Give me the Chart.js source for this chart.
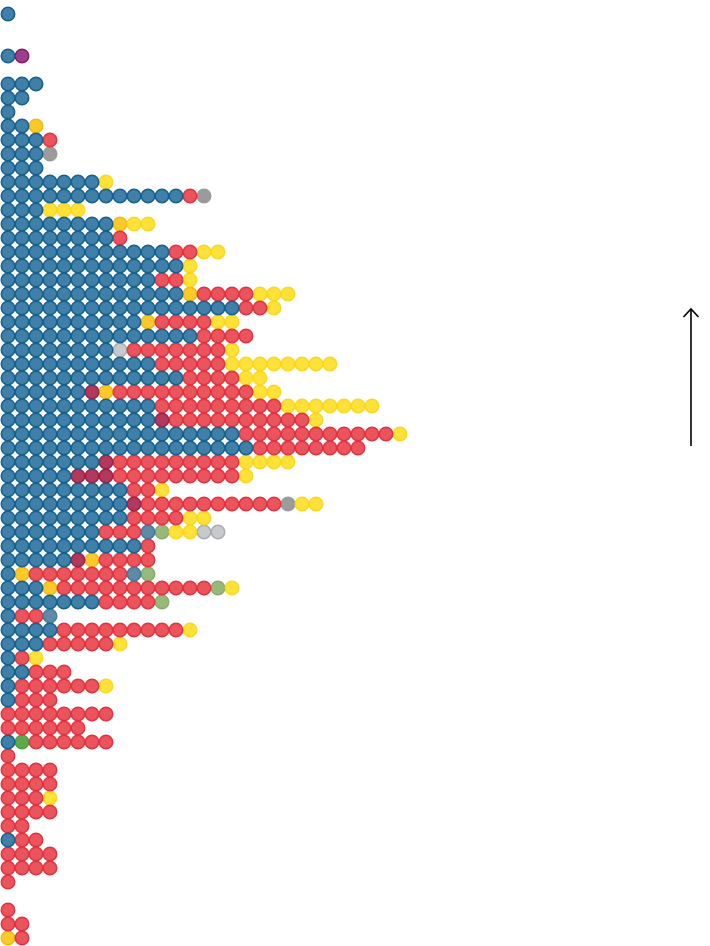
<!DOCTYPE html>
<html>
<head>
<meta charset="utf-8">
<script src="https://cdn.jsdelivr.net/npm/chart.js@4.4.1/dist/chart.umd.min.js"></script>
<style>
  html, body { margin: 0; padding: 0; background: #ffffff; }
  #wrap { width: 710px; height: 946px; }
</style>
</head>
<body>
<div id="wrap"><canvas id="c" width="710" height="946"></canvas></div>
<script>
// Category codes
const categoryCodes = ["B", "b", "D", "R", "Y", "y", "P", "G", "L", "V", "g"];
const categoryNames = ["Blue", "Blue (mixed)", "Dark red", "Red", "Yellow", "Yellow (mixed)", "Purple", "Grey", "Light grey", "Light green", "Green"];

// One string per row (top to bottom), one character per dot (left to right)
const rows = [
  "B", "", "", "BP", "", "BBB", "BB", "B", "BBy", "BBBR",
  "BBBG", "BBB", "BBBBBBBY", "BBBBBBBBBBBBBRG", "BBBYYY",
  "BBBBBBBByYY", "BBBBBBBBR", "BBBBBBBBBBBBRRYY", "BBBBBBBBBBBBBY", "BBBBBBBBBBBRRY",
  "BBBBBBBBBBBBByRRRRYYY", "BBBBBBBBBBBBBBBBBRRY", "BBBBBBBBBByRRRRYY", "BBBBBBBBBBBBBBRRRR", "BBBBBBBBLRRRRRRRY",
  "BBBBBBBBBBBRRRRRYYYYYYYY", "BBBBBBBBBBBBBRRRRYY", "BBBBBBDyRRRRRRRRRRYY", "BBBBBBBBBBBRRRRRRRRRYYYYYYY", "BBBBBBBBBBBDRRRRRRRRRRY",
  "BBBBBBBBBBBBBBBBBRRRRRRRRRRRY", "BBBBBBBBBBBBBBBBBBRRRRRRRR", "BBBBBBBDRRRRRRRRRYYYY", "BBBBBDDDRRRRRRRRRY", "BBBBBBBBBRRY",
  "BBBBBBBBBDRRRRRRRRRRGYY", "BBBBBBBBBRRRRYY", "BBBBBBBRRRbVYYLL", "BBBBBBBBBBR", "BBBBBDyRRRR",
  "ByRRRRRRRbV", "BBByRRRRRRRRRRRVY", "BBBBBBBRRRRV", "BRRb", "BBBBRRRRRRRRRY",
  "BBBRRRRRY", "BRY", "BBRRR", "BRRRRRRY", "BRRR",
  "RRRRRRRR", "RRRRRR", "BgRRRRRR", "R", "RRRR",
  "RRRR", "RRRY", "RRRR", "RR", "BRR",
  "RRRR", "RRRR", "R", "", "R",
  "RR", "yR"
];

// Styles per category (kept separate from the data)
const fills   = { B:"#3f7fa8", b:"#5f8aa6", D:"#b13a5c", R:"#e9545d", Y:"#fee23a", y:"#fbc92a", P:"#9c3f8f", G:"#9b9b9b", L:"#c7cacd", V:"#98b97c", g:"#5caa4c" };
const borders = { B:"#16618f", b:"#3f7aa0", D:"#9e1f48", R:"#e3333f", Y:"#fbd71e", y:"#f3b90f", P:"#8a1a6a", G:"#999999", L:"#a9acaf", V:"#88ab69", g:"#4f9f3f" };

const datasets = categoryCodes.map((code, ci) => {
  const pts = [];
  rows.forEach((row, r) => {
    for (let i = 0; i < row.length; i++) {
      if (row[i] === code) pts.push({ x: i, y: r });
    }
  });
  return {
    label: categoryNames[ci],
    data: pts,
    pointRadius: 6.75,
    pointHoverRadius: 6.75,
    borderWidth: 1.5,
    pointBorderWidth: 1.5,
    backgroundColor: fills[code],
    borderColor: borders[code],
    pointStyle: "circle",
    clip: false
  };
});

const arrowPlugin = {
  id: "arrow",
  afterDraw(chart) {
    const ctx = chart.ctx;
    const ys = chart.scales.y;
    const x = chart.chartArea.right - 19;
    const yTop = ys.getPixelForValue(21.07);
    const yBot = ys.getPixelForValue(30.86);
    ctx.save();
    ctx.strokeStyle = "#000000";
    ctx.lineWidth = 1.6;
    ctx.beginPath();
    ctx.moveTo(x, yBot);
    ctx.lineTo(x, yTop);
    ctx.stroke();
    ctx.beginPath();
    ctx.moveTo(x - 7.5, yTop + 8);
    ctx.lineTo(x, yTop);
    ctx.lineTo(x + 7.5, yTop + 8);
    ctx.stroke();
    ctx.restore();
  }
};

new Chart(document.getElementById("c"), {
  type: "scatter",
  data: { datasets },
  options: {
    responsive: false,
    devicePixelRatio: 1,
    animation: false,
    layout: { padding: 0, autoPadding: false },
    plugins: { legend: { display: false }, tooltip: { enabled: false } },
    scales: {
      x: { type: "linear", display: false, min: -8/14, max: 702/14 },
      y: { type: "linear", display: false, reverse: true, min: -1, max: 932/14 }
    }
  },
  plugins: [arrowPlugin]
});
</script>
</body>
</html>
